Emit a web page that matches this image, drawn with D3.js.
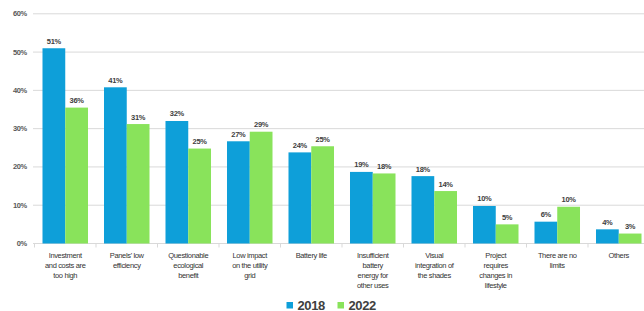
<!DOCTYPE html>
<html><head><meta charset="utf-8">
<script src="https://cdn.jsdelivr.net/npm/d3@7/dist/d3.min.js"></script>
<style>body{margin:0;background:#fff}svg{display:block}</style>
</head><body><svg id="c" width="644" height="311"></svg>
<script>
const categories = [
  ["Investment","and costs are","too high"],
  ["Panels' low","efficiency"],
  ["Questionable","ecological","benefit"],
  ["Low impact","on the utility","grid"],
  ["Battery life"],
  ["Insufficient","battery","energy for","other uses"],
  ["Visual","integration of","the shades"],
  ["Project","requires","changes in","lifestyle"],
  ["There are no","limits"],
  ["Others"]
];
const seriesNames = ["2018","2022"];
const values2018 = [51, 40.8, 32, 26.7, 23.8, 18.7, 17.6, 9.8, 5.7, 3.7];
const values2022 = [35.5, 31.2, 24.8, 29.2, 25.4, 18.3, 13.7, 5.0, 9.6, 2.6];
const labels2018 = ["51%","41%","32%","27%","24%","19%","18%","10%","6%","4%"];
const labels2022 = ["36%","31%","25%","29%","25%","18%","14%","5%","10%","3%"];
const yTicks = [0,10,20,30,40,50,60];
const colors = ["#0e9fd9","#89e35b"];

const svg = d3.select("#c");
const ids = categories.map((c,i)=>i);
const x0 = d3.scaleBand().domain(ids).range([34.5, 649.5]).paddingInner(0.26).paddingOuter(0.13);
const x1 = d3.scaleBand().domain(seriesNames).range([0, x0.bandwidth()]);
const y = d3.scaleLinear().domain([0,60]).range([243.5, 13.8]);

svg.append("g").selectAll("line").data(yTicks).join("line")
  .attr("x1", 33).attr("x2", 644)
  .attr("y1", d=>y(d)).attr("y2", d=>y(d))
  .attr("stroke", "#d9d9d9").attr("stroke-width", 1);

svg.append("g").selectAll("text").data(yTicks).join("text")
  .attr("x", 27).attr("y", d=>y(d)+2.5)
  .attr("text-anchor","end")
  .attr("font-family","Liberation Sans, Arial, sans-serif")
  .attr("font-size", 7.5).attr("font-weight","bold").attr("fill","#595959")
  .attr("letter-spacing", -0.3)
  .text(d=>d+"%");

const step = x0.step();
const bounds = d3.range(categories.length+1).map(i=>34.5 + i*step);
svg.append("g").selectAll("line").data(bounds).join("line")
  .attr("x1", d=>d).attr("x2", d=>d)
  .attr("y1", y(0)).attr("y2", y(0)+4)
  .attr("stroke","#d9d9d9");

const data = [values2018, values2022];
const labs = [labels2018, labels2022];
seriesNames.forEach((s,si)=>{
  const g = svg.append("g");
  g.selectAll("rect").data(ids).join("rect")
    .attr("x", i=>x0(i)+x1(s))
    .attr("width", x1.bandwidth())
    .attr("y", i=>y(data[si][i]))
    .attr("height", i=>y(0)-y(data[si][i]))
    .attr("fill", colors[si]);
  g.selectAll("text").data(ids).join("text")
    .attr("x", i=>x0(i)+x1(s)+x1.bandwidth()/2)
    .attr("y", i=>y(data[si][i])-4.5)
    .attr("text-anchor","middle")
    .attr("font-family","Liberation Sans, Arial, sans-serif")
    .attr("font-size", 7.5).attr("font-weight","bold").attr("fill","#404040")
    .attr("letter-spacing", -0.3)
    .text(i=>labs[si][i]);
});

const cg = svg.append("g");
ids.forEach(i=>{
  const t = cg.append("text")
    .attr("x", x0(i)+x0.bandwidth()/2)
    .attr("y", 258)
    .attr("text-anchor","middle")
    .attr("font-family","Liberation Sans, Arial, sans-serif")
    .attr("font-size", 7.5).attr("fill","#333333")
    .attr("letter-spacing", -0.35);
  categories[i].forEach((line,li)=>{
    t.append("tspan").attr("x", x0(i)+x0.bandwidth()/2).attr("dy", li===0?0:10).text(line);
  });
});

const lg = svg.append("g");
const legX = [286.5, 337.5];
seriesNames.forEach((s,si)=>{
  lg.append("rect").attr("x", legX[si]).attr("y", 302).attr("width", 6.5).attr("height", 6.5).attr("fill", colors[si]);
  lg.append("text").attr("x", legX[si]+11).attr("y", 309.5)
    .attr("font-family","Liberation Sans, Arial, sans-serif")
    .attr("font-size", 13).attr("font-weight","bold").attr("fill","#404040").attr("letter-spacing", -0.4)
    .text(s);
});
</script></body></html>
